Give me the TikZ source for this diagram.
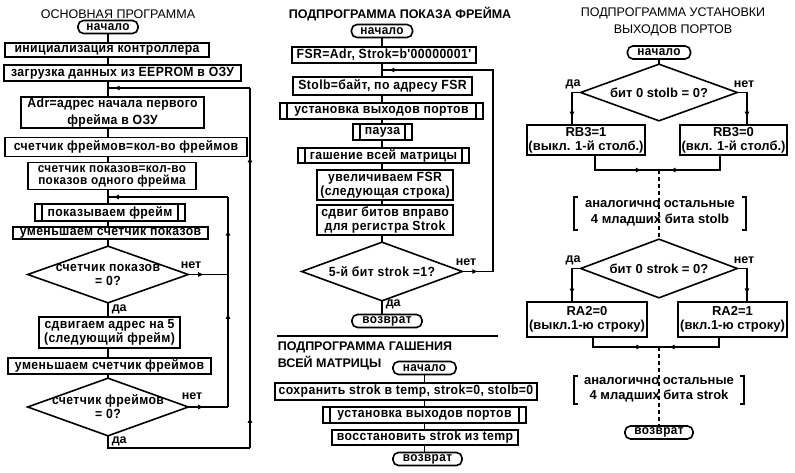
\documentclass[tikz,border=0pt]{standalone}
\usepackage{fontspec}
\setmainfont{Liberation Sans}
\newfontfamily\pixfont[FakeStretch=0.92, LetterSpace=3]{Liberation Sans}
\usetikzlibrary{arrows.meta,decorations.markings}

\begin{document}
\begin{tikzpicture}[x=1pt, y=-1pt, line width=1.6pt,
  blk/.style={draw, rectangle, inner sep=0pt, align=center,
    font=\pixfont\bfseries\fontsize{13.3}{14}\selectfont},
  sub/.style={blk, path picture={
    \draw ([xshift=7pt]path picture bounding box.north west) -- ([xshift=7pt]path picture bounding box.south west);
    \draw ([xshift=-7pt]path picture bounding box.north east) -- ([xshift=-7pt]path picture bounding box.south east);}},
  term/.style={blk, rounded corners=5.5pt, minimum width=60, minimum height=13,
    font=\pixfont\bfseries\fontsize{12.8}{14}\selectfont},
  cond/.style={blk, draw=none, append after command={\pgfextra{
    \draw (\tikzlastnode.north) -- (\tikzlastnode.east) -- (\tikzlastnode.south) -- (\tikzlastnode.west) -- cycle;}}},
  box/.style={draw, rectangle, inner sep=0pt, align=center,
    font=\bfseries\fontsize{13}{14}\selectfont},
  note/.style={inner sep=0pt, align=center, font=\bfseries\fontsize{13}{15.5}\selectfont},
  lbl/.style={inner sep=0pt, font=\bfseries\fontsize{12.5}{13}\selectfont},
  ttl/.style={inner sep=0pt, align=center, font=\fontsize{12.5}{17}\selectfont},
  arrowat/.style={postaction={decorate}, decoration={markings,
    mark=at position #1 with {\arrow{Latex[length=6pt,width=5pt]}}}},
  dots/.style={dash pattern=on 4pt off 3pt}]

\useasboundingbox (0,0) rectangle (795,473);

% main program
\node[ttl] (title1) at (118,14) {ОСНОВНАЯ ПРОГРАММА};
\node[term] (start1) at (108,27) {начало};
\node[blk, minimum width=204, minimum height=14] (init) at (107,50) {инициализация контроллера};
\node[blk, minimum width=237, minimum height=16] (load) at (122.5,73) {загрузка данных из EEPROM в ОЗУ};
\node[blk, minimum width=183, minimum height=31, font=\pixfont\bfseries\fontsize{13.3}{16.5}\selectfont] (adr) at (112.5,112.5) {Adr=адрес начала первого\\фрейма в ОЗУ};
\node[blk, minimum width=242, minimum height=19] (frames) at (126,147) {счетчик фреймов=кол-во фреймов};
\node[blk, minimum width=168, minimum height=27, font=\pixfont\bfseries\fontsize{12.8}{12}\selectfont] (shows) at (112,176) {счетчик показов=кол-во\\показов одного фрейма};
\node[sub, minimum width=150, minimum height=17] (showfr) at (110,212.5) {показываем фрейм};
\node[blk, minimum width=195, minimum height=12] (decsh) at (110.5,233) {уменьшаем счетчик показов};
\node[cond, minimum width=159, minimum height=55] (chk1) at (108,274.5) {счетчик показов\\= 0?};
\node[blk, minimum width=141, minimum height=31] (shift) at (109.5,332.5) {сдвигаем адрес на 5\\(следующий фрейм)};
\node[blk, minimum width=203, minimum height=16] (decfr) at (109.5,366) {уменьшаем счетчик фреймов};
\node[cond, minimum width=159, minimum height=56] (chk2) at (108,407) {счетчик фреймов\\= 0?};
\node[lbl] (no1) at (191,265) {нет};
\node[lbl, anchor=west] (yes1) at (111,309) {да};
\node[lbl] (no2) at (192,396) {нет};
\node[lbl, anchor=west] (yes2) at (111,441) {да};

\coordinate (j1) at (108,88);
\coordinate (j2) at (108,197);
\coordinate (r1) at (228,274.5);
\coordinate (r2) at (228,407);
\coordinate (o1) at (250,448);

\draw (start1.south) -- (init.north -| start1);
\draw (init.south -| start1) -- (load.north -| start1);
\draw (load.south -| start1) -- (adr.north -| start1);
\draw (adr.south -| start1) -- (frames.north -| start1);
\draw (frames.south -| start1) -- (shows.north -| start1);
\draw (shows.south -| start1) -- (showfr.north -| start1);
\draw (showfr.south -| start1) -- (decsh.north -| start1);
\draw (decsh.south -| start1) -- (chk1.north);
\draw (chk1.south) -- (shift.north -| start1);
\draw (shift.south -| start1) -- (decfr.north -| start1);
\draw (decfr.south -| start1) -- (chk2.north);

\draw[arrowat=0.4] (chk1.east) -- (r1);
\draw[arrowat=0.4] (chk2.east) -- (r2);
\draw[arrowat=0.71] (r2) -- (r1);
\draw[arrowat=0.58] (r1) -- (r1 |- j2);
\draw[arrowat=0.96] (r1 |- j2) -- (j2);
\draw (chk2.south) |- (o1);
\draw[arrowat=0.27] (o1) -- (o1 |- shift);
\draw[arrowat=0.72] (o1 |- shift) -- (o1 |- j1);
\draw[arrowat=0.96] (o1 |- j1) -- (j1);

% show frame
\node[ttl, font=\bfseries\fontsize{12.5}{17}\selectfont] (title2) at (400,14) {ПОДПРОГРАММА ПОКАЗА ФРЕЙМА};
\node[term, minimum width=61] (start2) at (382,31) {начало};
\node[blk, minimum width=184, minimum height=16] (fsr) at (384,55) {FSR=Adr, Strok=b'00000001'};
\node[blk, minimum width=179, minimum height=18] (stolb) at (382.5,86) {Stolb=байт, по адресу FSR};
\node[sub, minimum width=203, minimum height=16] (ports) at (381.5,111) {установка выходов портов};
\node[sub, minimum width=59, minimum height=16] (pause) at (382.5,132) {пауза};
\node[sub, minimum width=171, minimum height=15] (blank) at (383.5,155.5) {гашение всей матрицы};
\node[blk, minimum width=136, minimum height=30] (incfsr) at (385,185) {увеличиваем FSR\\(следующая строка)};
\node[blk, minimum width=136, minimum height=30] (shr) at (385,220) {сдвиг битов вправо\\для регистра Strok};
\node[cond, minimum width=159, minimum height=57] (chk3) at (382,271.5) {5-й бит strok =1?};
\node[lbl] (no3) at (466,262) {нет};
\node[lbl, anchor=west] (yes3) at (385,304) {да};
\node[term, minimum width=70] (ret2) at (387,321) {возврат};

\coordinate (j3) at (382,70);
\coordinate (r3) at (493,271.5);

\draw (start2.south) -- (fsr.north -| start2);
\draw (fsr.south -| start2) -- (stolb.north -| start2);
\draw (stolb.south -| start2) -- (ports.north -| start2);
\draw (ports.south -| start2) -- (pause.north -| start2);
\draw (pause.south -| start2) -- (blank.north -| start2);
\draw (blank.south -| start2) -- (incfsr.north -| start2);
\draw (incfsr.south -| start2) -- (shr.north -| start2);
\draw (shr.south -| start2) -- (chk3.north);
\draw (chk3.south) -- (ret2.north -| start2);
\draw[arrowat=0.52] (chk3.east) -- (r3);
\draw[arrowat=0.98] (r3) -- (r3 |- j3) -- (j3);

\draw (277,336) -- (498,336);

% blank matrix
\node[ttl, anchor=west, align=left, font=\bfseries\fontsize{12.5}{17}\selectfont] (title3) at (277,355.5) {ПОДПРОГРАММА ГАШЕНИЯ\\ВСЕЙ МАТРИЦЫ};
\node[term, minimum width=63] (start3) at (424.5,368) {начало};
\node[blk, minimum width=262, minimum height=17] (save) at (406,391.5) {сохранить strok в temp, strok=0, stolb=0};
\node[sub, minimum width=203, minimum height=16] (ports2) at (424.5,415) {установка выходов портов};
\node[blk, minimum width=186, minimum height=15] (restore) at (425,437.5) {восстановить strok из temp};
\node[term, minimum width=69] (ret3) at (427.5,459) {возврат};

\draw (start3.south) -- (save.north -| start3);
\draw (save.south -| start3) -- (ports2.north -| start3);
\draw (ports2.south -| start3) -- (restore.north -| start3);
\draw (restore.south -| start3) -- (ret3.north -| start3);

% port outputs
\node[ttl] (title4) at (673,21.5) {ПОДПРОГРАММА УСТАНОВКИ\\ВЫХОДОВ ПОРТОВ};
\node[term, minimum width=63] (start4) at (659,52.5) {начало};
\node[cond, font=\bfseries\fontsize{13}{14}\selectfont, minimum width=155, minimum height=55] (chk4) at (659,92.5) {бит 0 stolb = 0?};
\node[lbl] (yes4) at (573,84) {да};
\node[lbl] (no4) at (744,84) {нет};
\node[box, minimum width=118, minimum height=30] (rb1) at (586,140) {RB3=1\\(выкл. 1-й столб.)};
\node[box, minimum width=107, minimum height=30] (rb0) at (733.5,140) {RB3=0\\(вкл. 1-й столб.)};
\node[note, minimum width=170, minimum height=31] (note1) at (660,213.5) {аналогично остальные\\4 младших бита stolb};
\node[cond, font=\bfseries\fontsize{13}{14}\selectfont, minimum width=155, minimum height=57] (chk5) at (659,268.5) {бит 0 strok = 0?};
\node[lbl] (yes5) at (573,260) {да};
\node[lbl] (no5) at (744,260) {нет};
\node[box, minimum width=120, minimum height=35] (ra0) at (587,319.5) {RA2=0\\(выкл.1-ю строку)};
\node[box, minimum width=109, minimum height=35] (ra1) at (732.5,319.5) {RA2=1\\(вкл.1-ю строку)};
\node[note, minimum width=168, minimum height=26] (note2) at (659,390) {аналогично остальные\\4 младших бита strok};
\node[term, minimum width=68] (ret4) at (659,432.5) {возврат};

\coordinate (a4) at (572,92.5);
\coordinate (b4) at (747,92.5);
\coordinate (m4) at (659,170);
\coordinate (a5) at (572,268.5);
\coordinate (b5) at (747,268.5);
\coordinate (m5) at (659,347);

\draw (start4.south) -- (chk4.north);
\draw[arrowat=0.84] (chk4.west) -- (a4) -- (a4 |- rb1.north);
\draw[arrowat=0.84] (chk4.east) -- (b4) -- (b4 |- rb0.north);
\draw[arrowat=0.78] ([xshift=9pt]rb1.south) |- (m4);
\draw[arrowat=0.86] ([xshift=-13.5pt]rb0.south) |- (m4);
\draw[dots] (m4) -- (chk5.north);
\draw ([xshift=4pt]note1.north west) -- (note1.north west) -- (note1.south west) -- ([xshift=4pt]note1.south west);
\draw ([xshift=-4pt]note1.north east) -- (note1.north east) -- (note1.south east) -- ([xshift=-4pt]note1.south east);

\draw[arrowat=0.84] (chk5.west) -- (a5) -- (a5 |- ra0.north);
\draw[arrowat=0.84] (chk5.east) -- (b5) -- (b5 |- ra1.north);
\draw[arrowat=0.78] ([xshift=6pt]ra0.south) |- (m5);
\draw[arrowat=0.86] ([xshift=-13.5pt]ra1.south) |- (m5);
\draw[dots] (m5) -- (ret4.north);
\draw ([xshift=4pt]note2.north west) -- (note2.north west) -- (note2.south west) -- ([xshift=4pt]note2.south west);
\draw ([xshift=-4pt]note2.north east) -- (note2.north east) -- (note2.south east) -- ([xshift=-4pt]note2.south east);

\end{tikzpicture}
\end{document}
